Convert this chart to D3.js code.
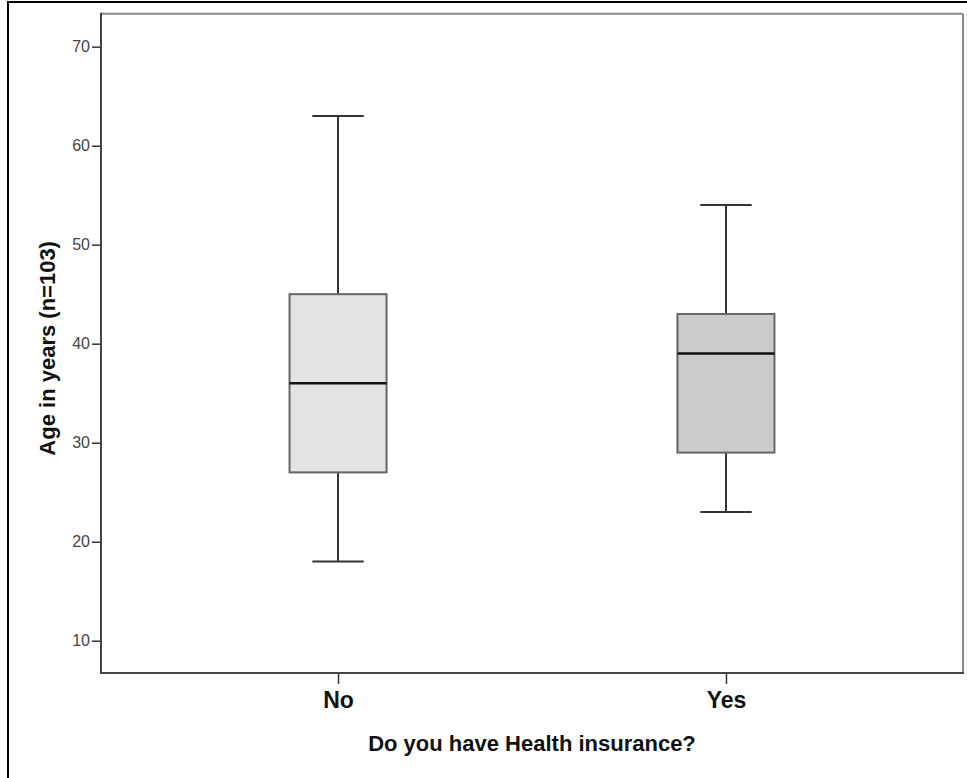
<!DOCTYPE html>
<html>
<head>
<meta charset="utf-8">
<script src="https://cdn.jsdelivr.net/npm/d3@7"></script>
<style>
  html, body { margin: 0; padding: 0; background: #fff; }
  svg { display: block; }
  text { font-family: "Liberation Sans", Arial, sans-serif; }
</style>
</head>
<body>
<svg id="chart" width="967" height="778"></svg>
<script>
const categories = ["No", "Yes"];
const mins = [18, 23];
const q1s = [27, 29];
const medians = [36, 39];
const q3s = [45, 43];
const maxs = [63, 54];
const boxFills = ["#e3e3e3", "#cbcbcb"];
const yTicks = [10, 20, 30, 40, 50, 60, 70];
const yTitle = "Age in years (n=103)";
const xTitle = "Do you have Health insurance?";

const svg = d3.select("#chart");
const pLeft = 101, pRight = 963, pTop = 13.7, pBottom = 673;

// outer border
svg.append("rect").attr("x", 8).attr("y", 2).attr("width", 1000).attr("height", 1000)
  .attr("fill", "none").attr("stroke", "#000").attr("stroke-width", 2);

const y = d3.scaleLinear().domain([6.737, 73.33]).range([pBottom, pTop]);
const x = d3.scalePoint().domain(categories).range([pLeft, pRight]).padding(0.611);
const step = x.step();
const boxW = step * 0.25;
const capW = boxW * 0.53;

// frame top/right
svg.append("line").attr("x1", pLeft).attr("x2", pRight).attr("y1", pTop).attr("y2", pTop)
  .attr("stroke", "#8a8a8a").attr("stroke-width", 2);
svg.append("line").attr("x1", pRight).attr("x2", pRight).attr("y1", pTop).attr("y2", pBottom)
  .attr("stroke", "#8a8a8a").attr("stroke-width", 2);

// y axis
const yAxis = svg.append("g").attr("transform", `translate(${pLeft},0)`)
  .call(d3.axisLeft(y).tickValues(yTicks).tickSize(9).tickPadding(2));
yAxis.select(".domain").remove();
yAxis.selectAll(".tick line").attr("stroke", "#333").attr("stroke-width", 1.5);
yAxis.selectAll(".tick text").attr("font-size", 16).attr("fill", "#444")
  .attr("font-family", "'Liberation Sans', Arial, sans-serif");

// x axis
const xAxis = svg.append("g").attr("transform", `translate(0,${pBottom})`)
  .call(d3.axisBottom(x).tickSize(11).tickPadding(8));
xAxis.select(".domain").remove();
xAxis.selectAll(".tick line").attr("stroke", "#333").attr("stroke-width", 1.5);
xAxis.selectAll(".tick text").attr("font-size", 23).attr("font-weight", "bold").attr("fill", "#111")
  .attr("font-family", "'Liberation Sans', Arial, sans-serif");

// left & bottom axis lines
svg.append("line").attr("x1", pLeft).attr("x2", pLeft).attr("y1", pTop - 1).attr("y2", pBottom + 1)
  .attr("stroke", "#444").attr("stroke-width", 2);
svg.append("line").attr("x1", pLeft - 1).attr("x2", pRight + 1).attr("y1", pBottom).attr("y2", pBottom)
  .attr("stroke", "#444").attr("stroke-width", 2);

// boxes
categories.forEach((c, i) => {
  const cx = x(c);
  const g = svg.append("g");
  g.append("line").attr("x1", cx).attr("x2", cx).attr("y1", y(maxs[i])).attr("y2", y(q3s[i]))
    .attr("stroke", "#333").attr("stroke-width", 2);
  g.append("line").attr("x1", cx).attr("x2", cx).attr("y1", y(q1s[i])).attr("y2", y(mins[i]))
    .attr("stroke", "#333").attr("stroke-width", 2);
  g.append("line").attr("x1", cx - capW / 2).attr("x2", cx + capW / 2).attr("y1", y(maxs[i])).attr("y2", y(maxs[i]))
    .attr("stroke", "#333").attr("stroke-width", 2);
  g.append("line").attr("x1", cx - capW / 2).attr("x2", cx + capW / 2).attr("y1", y(mins[i])).attr("y2", y(mins[i]))
    .attr("stroke", "#333").attr("stroke-width", 2);
  g.append("rect").attr("x", cx - boxW / 2).attr("y", y(q3s[i]))
    .attr("width", boxW).attr("height", y(q1s[i]) - y(q3s[i]))
    .attr("fill", boxFills[i]).attr("stroke", "#666").attr("stroke-width", 2);
  g.append("line").attr("x1", cx - boxW / 2).attr("x2", cx + boxW / 2).attr("y1", y(medians[i])).attr("y2", y(medians[i]))
    .attr("stroke", "#111").attr("stroke-width", 2.5);
});

// titles
svg.append("text").attr("x", (pLeft + pRight) / 2).attr("y", 751)
  .attr("text-anchor", "middle").attr("font-size", 22).attr("font-weight", "bold").attr("fill", "#111")
  .text(xTitle);
svg.append("text").attr("transform", `translate(55,${(pTop + pBottom) / 2 + 5}) rotate(-90)`)
  .attr("text-anchor", "middle").attr("font-size", 22).attr("font-weight", "bold").attr("fill", "#111")
  .text(yTitle);
</script>
</body>
</html>
